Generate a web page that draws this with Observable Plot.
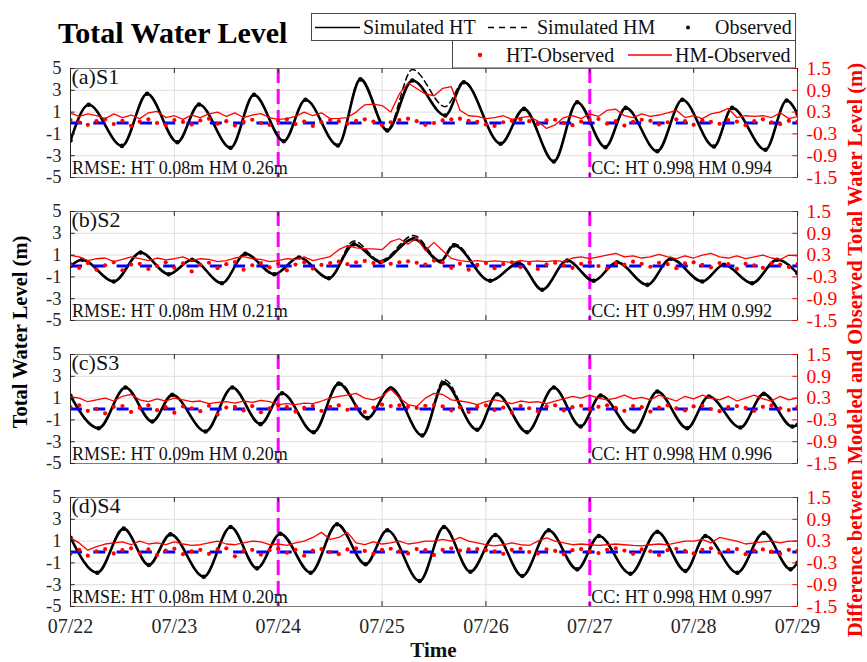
<!DOCTYPE html>
<html>
<head>
<meta charset="utf-8">
<script src="https://cdn.jsdelivr.net/npm/d3@7"></script>
<script src="https://cdn.jsdelivr.net/npm/@observablehq/plot@0.6"></script>
<style>
  html, body { margin: 0; padding: 0; background: #fff; }
  #wrap { position: relative; width: 867px; height: 662px; overflow: hidden; font-family: "Liberation Serif", "Times New Roman", serif; }
  #wrap > svg { position: absolute; left: 0; top: 0; }
  #overlay { pointer-events: none; }
</style>
</head>
<body>
<div id="wrap"></div>
<script>
// ---------------- data ----------------
const panelIds = ["a", "b", "c", "d"];
const panelNames = ["(a)S1", "(b)S2", "(c)S3", "(d)S4"];
const rmseLabels = ["RMSE: HT 0.08m HM 0.26m", "RMSE: HT 0.08m HM 0.21m", "RMSE: HT 0.09m HM 0.20m", "RMSE: HT 0.08m HM 0.20m"];
const ccLabels = ["CC: HT 0.998 HM 0.994", "CC: HT 0.997 HM 0.992", "CC: HT 0.998 HM 0.996", "CC: HT 0.998 HM 0.997"];
const dayLabels = ["07/22", "07/23", "07/24", "07/25", "07/26", "07/27", "07/28", "07/29"];
const markerDays = ["07/24", "07/27"];
const leftTicks = [5, 3, 1, -1, -3, -5];
const rightTickLabels = ["1.5", "0.9", "0.3", "-0.3", "-0.9", "-1.5"];

// Total water level key points (hours after 07/22 00:00, m)
const hoursA = [0, 4.2, 11.9, 17.7, 24.7, 29.7, 37, 42.4, 49.3, 54.3, 61.8, 67, 73.2, 79, 86.6, 90.9, 99.4, 104.8, 111.7, 117.1, 123.6, 128.3, 135.6, 141.4, 148.7, 152.9, 160.6, 165.5, 168];
const observedA = [-1.6, 1.67, -2.1, 2.68, -1.76, 1.7, -2.28, 2.59, -1.67, 2.13, -2.06, 4.0, -0.69, 3.9, 0.69, 3.74, -1.9, 1.3, -3.53, 1.91, -2.22, 1.39, -2.59, 2.13, -2.16, 1.39, -2.46, 2.06, 0.84];
const simHTA = [-1.6, 1.67, -2.1, 2.68, -1.76, 1.7, -2.28, 2.59, -1.67, 2.13, -2.06, 4.0, -0.69, 3.9, 0.69, 3.74, -1.9, 1.3, -3.53, 1.91, -2.22, 1.39, -2.59, 2.13, -2.16, 1.39, -2.46, 2.06, 0.84];
const simHMA = [-1.6, 1.67, -2.1, 2.68, -1.76, 1.7, -2.28, 2.59, -1.67, 2.13, -2.06, 4.1, -0.6, 4.9, 1.5, 3.8, -1.9, 1.3, -3.53, 1.91, -2.22, 1.39, -2.59, 2.13, -2.16, 1.39, -2.46, 2.06, 0.84];

const hoursB = [0, 2.7, 10, 16.2, 22.7, 28.1, 35, 40.4, 47.1, 52.8, 59.7, 65.5, 71.6, 79.3, 85.5, 88.6, 97, 103.6, 109, 114.8, 120.9, 126.3, 133.3, 138.7, 146, 151, 157.5, 163.3, 168];
const observedB = [0.0, 0.57, -1.42, 1.24, -0.75, 0.57, -1.58, 1.12, -0.75, 0.78, -1.12, 2.0, 0.35, 2.5, 0.41, 1.88, -1.36, 0.26, -2.18, 0.5, -1.36, 0.35, -1.73, 0.66, -1.42, 0.11, -1.58, 0.57, -0.66];
const simHTB = [0.0, 0.57, -1.42, 1.24, -0.75, 0.57, -1.58, 1.12, -0.75, 0.78, -1.12, 2.0, 0.35, 2.5, 0.41, 1.88, -1.36, 0.26, -2.18, 0.5, -1.36, 0.35, -1.73, 0.66, -1.42, 0.11, -1.58, 0.57, -0.66];
const simHMB = [0.0, 0.57, -1.42, 1.24, -0.75, 0.57, -1.58, 1.12, -0.75, 0.78, -1.12, 2.3, 0.5, 2.8, 0.5, 2.05, -1.36, 0.26, -2.18, 0.5, -1.36, 0.35, -1.73, 0.66, -1.42, 0.11, -1.58, 0.57, -0.66];

const hoursC = [0, 6.5, 12.7, 18.9, 23.5, 31.2, 37.4, 43.9, 48.9, 56.2, 62, 68.6, 74, 81.3, 86.3, 94, 98.6, 105.5, 111.7, 117.9, 122.5, 130.2, 135.6, 142.5, 147.5, 154.8, 160.2, 166.8, 168];
const observedC = [1.2, -1.76, 1.97, -1.15, 1.3, -2.06, 1.97, -1.39, 1.45, -2.13, 2.31, -0.84, 1.91, -2.43, 2.37, -1.91, 1.36, -2.13, 1.97, -1.6, 1.24, -2.06, 1.6, -1.76, 1.15, -1.7, 1.39, -1.6, -1.45];
const simHTC = [1.2, -1.76, 1.97, -1.15, 1.3, -2.06, 1.97, -1.39, 1.45, -2.13, 2.31, -0.84, 1.91, -2.43, 2.37, -1.91, 1.36, -2.13, 1.97, -1.6, 1.24, -2.06, 1.6, -1.76, 1.15, -1.7, 1.39, -1.6, -1.45];
const simHMC = [1.2, -1.76, 1.97, -1.15, 1.3, -2.06, 1.97, -1.39, 1.45, -2.13, 2.45, -0.8, 2.0, -2.4, 2.7, -1.91, 1.36, -2.13, 1.97, -1.6, 1.24, -2.06, 1.6, -1.76, 1.15, -1.7, 1.39, -1.6, -1.45];

const hoursD = [0, 6.2, 12.3, 18.1, 23.1, 30.8, 37, 43.1, 48.5, 55.5, 61.6, 68.2, 73.2, 80.7, 86.3, 92.4, 98.2, 104.4, 110.5, 117.1, 122.1, 129.4, 135.6, 142.1, 146.7, 154.1, 160.2, 166.4, 168];
const observedD = [1.31, -1.9, 2.14, -1.19, 1.62, -2.27, 2.29, -1.5, 1.68, -1.9, 2.54, -1.13, 1.99, -2.66, 2.29, -1.81, 1.56, -2.2, 1.99, -1.59, 1.47, -1.99, 1.86, -1.74, 1.47, -1.9, 1.77, -1.59, -0.98];
const simHTD = [1.31, -1.9, 2.14, -1.19, 1.62, -2.27, 2.29, -1.5, 1.68, -1.9, 2.54, -1.13, 1.99, -2.66, 2.29, -1.81, 1.56, -2.2, 1.99, -1.59, 1.47, -1.99, 1.86, -1.74, 1.47, -1.9, 1.77, -1.59, -0.98];
const simHMD = [1.31, -1.9, 2.14, -1.19, 1.62, -2.27, 2.29, -1.5, 1.68, -1.9, 2.6, -1.1, 1.99, -2.66, 2.35, -1.81, 1.56, -2.2, 1.99, -1.59, 1.47, -1.99, 1.86, -1.74, 1.47, -1.9, 1.77, -1.59, -0.98];

// Differences (m, right axis), every 2 hours from 07/22 00:00
const htMinusObsA = [0.08,0.02,-0.05,0.05,0.1,-0.03,0.06,-0.08,0.04,0.1,0.0,-0.06,0.08,0.03,-0.04,0.07,0.12,-0.02,0.05,-0.07,0.03,0.09,0.0,-0.05,0.06,0.1,-0.03,0.04,-0.08,0.02,0.08,0.05,-0.02,0.06,0.1,0.04,-0.06,0.02,0.08,0.12,0.05,-0.05,0.0,0.07,0.1,0.12,0.06,0.03,-0.04,-0.08,0.02,0.06,0.1,0.05,-0.03,0.07,0.09,0.0,-0.06,0.04,0.08,0.11,-0.02,0.05,-0.07,0.03,0.09,0.06,-0.04,0.02,0.1,0.05,-0.05,0.07,0.03,-0.02,0.08,0.04,-0.06,0.05,0.1,0.02,-0.03,0.06,0.04];
const hmMinusObsA = [0.27,0.18,0.25,0.2,0.12,0.25,0.15,0.22,0.12,0.28,0.32,0.15,0.2,0.1,0.22,0.15,0.25,0.3,0.18,0.28,0.15,0.22,0.26,0.15,0.1,0.12,0.18,0.3,0.2,0.28,0.12,0.13,0.15,0.3,0.5,0.52,0.48,0.3,0.8,1.1,0.95,0.8,0.75,0.95,1.0,0.35,0.2,0.18,0.12,0.15,0.2,0.1,0.15,0.18,0.05,-0.15,-0.05,0.15,0.2,0.12,0.25,0.18,0.35,0.38,0.2,0.15,0.25,0.18,0.22,0.28,0.35,0.15,0.2,0.12,0.25,0.3,0.4,0.15,0.2,0.18,0.2,0.15,0.28,0.12,0.18];
const htMinusObsB = [0.05,-0.05,0.08,-0.1,0.02,0.1,-0.12,0.04,0.06,-0.08,0.0,0.1,-0.05,0.07,-0.15,0.03,0.09,-0.06,0.05,0.11,-0.1,0.02,0.08,-0.04,0.06,-0.12,0.04,0.1,-0.07,0.03,0.08,0.12,0.05,0.1,0.14,0.08,0.12,0.06,0.1,0.13,0.09,0.04,0.15,0.1,-0.05,0.06,-0.1,0.03,0.08,-0.06,0.05,0.1,-0.03,0.07,-0.08,0.04,0.09,0.02,-0.05,0.06,0.1,0.0,-0.07,0.08,0.04,0.12,0.06,-0.02,0.09,0.05,-0.06,0.07,0.1,0.03,-0.04,0.08,0.05,-0.08,0.06,0.02,-0.05,0.07,0.04,-0.03,0.05];
const hmMinusObsB = [0.29,0.25,0.15,0.2,0.22,0.12,0.18,0.25,0.2,0.15,0.22,0.17,0.2,0.25,0.15,0.2,0.18,0.12,0.15,0.22,0.26,0.2,0.18,0.12,0.15,0.2,0.18,0.25,0.15,0.2,0.26,0.45,0.56,0.5,0.48,0.47,0.45,0.67,0.75,0.6,0.78,0.42,0.65,0.42,0.21,0.15,0.12,0.15,0.12,0.14,0.12,0.1,0.15,0.12,0.14,0.12,0.15,0.12,0.22,0.25,0.2,0.25,0.3,0.35,0.25,0.28,0.22,0.25,0.32,0.25,0.2,0.28,0.22,0.3,0.35,0.25,0.22,0.28,0.2,0.25,0.3,0.22,0.18,0.3,0.28];
const htMinusObsC = [0.05,0.1,-0.05,0.0,-0.12,0.06,0.08,-0.08,0.03,0.1,-0.03,0.05,-0.1,0.07,0.02,-0.06,0.09,-0.15,0.04,0.06,-0.04,0.08,-0.09,0.02,0.1,0.05,-0.07,0.03,0.08,-0.05,0.06,0.1,-0.02,0.07,-0.08,0.04,0.12,0.08,0.1,0.06,0.03,0.09,0.11,0.07,-0.04,0.05,-0.08,0.06,0.1,-0.03,0.04,-0.1,0.08,0.02,-0.06,0.07,0.1,-0.04,0.05,0.09,-0.02,0.06,0.1,0.03,-0.05,0.08,0.05,-0.07,0.04,0.1,0.02,-0.04,0.07,0.09,0.0,-0.06,0.05,0.08,0.03,-0.05,0.06,0.1,0.02,-0.03,0.05];
const hmMinusObsC = [0.34,0.3,0.2,0.25,0.3,0.22,0.35,0.4,0.25,0.2,0.28,0.22,0.3,0.25,0.2,0.22,0.15,0.18,0.2,0.16,0.22,0.18,0.24,0.2,0.12,0.15,0.12,0.16,0.15,0.22,0.3,0.35,0.38,0.43,0.3,0.25,0.35,0.55,0.3,0.12,0.07,0.3,0.43,0.4,0.25,0.22,0.18,0.12,0.2,0.25,0.2,0.15,0.22,0.18,0.2,0.15,0.22,0.28,0.35,0.3,0.38,0.3,0.25,0.3,0.38,0.28,0.32,0.25,0.38,0.3,0.22,0.35,0.28,0.38,0.3,0.25,0.35,0.22,0.3,0.38,0.28,0.22,0.35,0.25,0.3];
const htMinusObsD = [-0.05,0.06,-0.1,0.02,0.08,-0.04,0.05,0.1,-0.03,0.07,-0.08,0.04,0.09,-0.06,0.02,0.06,-0.05,0.08,0.1,-0.12,0.03,0.06,-0.07,0.05,0.09,-0.02,0.06,-0.1,0.04,0.08,0.0,-0.06,0.07,0.1,0.03,-0.05,0.06,0.09,0.02,-0.04,0.08,0.05,-0.08,0.06,0.1,0.04,0.07,0.08,0.05,0.02,-0.05,0.06,0.09,0.0,-0.04,0.07,0.03,-0.06,0.05,0.08,0.02,-0.03,0.06,0.1,0.04,-0.05,0.07,0.02,-0.08,0.05,0.09,0.03,-0.04,0.06,0.1,-0.02,0.05,0.08,-0.06,0.04,0.07,0.01,-0.05,0.06,0.03];
const hmMinusObsD = [0.39,0.25,0.05,0.15,0.22,0.25,0.28,0.2,0.3,0.22,0.25,0.2,0.28,0.22,0.18,0.2,0.25,0.3,0.22,0.2,0.25,0.3,0.28,0.2,0.22,0.18,0.25,0.3,0.4,0.54,0.35,0.4,0.54,0.25,0.2,0.28,0.22,0.25,0.3,0.22,0.25,0.3,0.3,0.35,0.3,0.4,0.3,0.25,0.2,0.17,0.2,0.25,0.2,0.18,0.3,0.39,0.3,0.25,0.2,0.22,0.2,0.18,0.2,0.22,0.2,0.18,0.17,0.2,0.22,0.2,0.25,0.3,0.3,0.35,0.25,0.4,0.35,0.3,0.22,0.25,0.28,0.3,0.25,0.3,0.3];

// ---------------- tables ----------------
const HOUR = 3600e3;
const t0 = Date.UTC(2023, 6, 22);
const toDate = h => new Date(t0 + h * HOUR);
const dayDates = dayLabels.map((_, i) => toDate(24 * i));
const dateOfLabel = lab => dayDates[dayLabels.indexOf(lab)];
const dStart = dayDates[0], dEnd = dayDates[dayDates.length - 1];
const RIGHT_PER_LEFT = 0.3; // right axis [-1.5, 1.5] shares the frame with left axis [-5, 5]

const panelSeries = [
  {hours: hoursA, obs: observedA, ht: simHTA, hm: simHMA, dht: htMinusObsA, dhm: hmMinusObsA},
  {hours: hoursB, obs: observedB, ht: simHTB, hm: simHMB, dht: htMinusObsB, dhm: hmMinusObsB},
  {hours: hoursC, obs: observedC, ht: simHTC, hm: simHMC, dht: htMinusObsC, dhm: hmMinusObsC},
  {hours: hoursD, obs: observedD, ht: simHTD, hm: simHMD, dht: htMinusObsD, dhm: hmMinusObsD}
];

const levelRows = [], diffRows = [], panelRows = [];
panelSeries.forEach((s, k) => {
  const p = panelIds[k];
  s.hours.forEach((h, i) => levelRows.push({panel: p, date: toDate(h), obs: s.obs[i], ht: s.ht[i], hm: s.hm[i]}));
  s.dht.forEach((v, i) => diffRows.push({panel: p, date: toDate(2 * i), ht: v, hm: s.dhm[i]}));
  panelRows.push({panel: p, name: panelNames[k], rmse: rmseLabels[k], cc: ccLabels[k],
                  xl: dStart, xcc: dateOfLabel("07/27"), top: 5, bottom: -5});
});
const leftTickRows = leftTicks.map(v => ({v, a: dStart, b: toDate(1.1), c: toDate(166.9), d: dEnd}));

const FONT = '"Liberation Serif", "Times New Roman", serif';
const INK = "#262626";

const chart = Plot.plot({
  width: 867,
  height: 662,
  marginTop: 68,
  marginBottom: 56,
  marginLeft: 70,
  marginRight: 70,
  style: {fontFamily: FONT, background: "white", color: INK},
  x: {type: "utc", domain: [dStart, dEnd]},
  y: {domain: [-5, 5]},
  fy: {domain: panelIds, paddingInner: 0.2378, paddingOuter: 0, axis: null},
  marks: [
    Plot.gridY(leftTicks, {stroke: "#dedede", strokeOpacity: 1}),
    Plot.gridX(dayDates, {stroke: "#dedede", strokeOpacity: 1}),
    Plot.ruleX(markerDays.map(dateOfLabel), {stroke: "#ff00ff", strokeWidth: 3, strokeDasharray: "15,6"}),
    Plot.line(levelRows, {x: "date", y: "hm", fy: "panel", z: "panel", curve: "monotone-x", stroke: "black", strokeWidth: 1.5, strokeDasharray: "6,4", clip: true}),
    Plot.line(levelRows, {x: "date", y: "ht", fy: "panel", z: "panel", curve: "monotone-x", stroke: "black", strokeWidth: 2.6, clip: true}),
    Plot.dot(levelRows, {x: "date", y: "obs", fy: "panel", r: 2.3, fill: "black", stroke: null, clip: true}),
    Plot.ruleY([0], {stroke: "#0000ff", strokeWidth: 3, strokeDasharray: "12,11.3"}),
    Plot.dot(diffRows, {x: "date", y: d => d.ht / RIGHT_PER_LEFT, fy: "panel", r: 2.1, fill: "#ff0000", stroke: null, clip: true}),
    Plot.line(diffRows, {x: "date", y: d => d.hm / RIGHT_PER_LEFT, fy: "panel", z: "panel", stroke: "#ff0000", strokeWidth: 1.3, clip: true}),
    Plot.text(panelRows, {x: "xl", y: "top", fy: "panel", text: "name", textAnchor: "start", lineAnchor: "top", dx: 1, dy: 0, fontSize: 22, fontFamily: FONT, fill: "#111"}),
    Plot.text(panelRows, {x: "xl", y: "bottom", fy: "panel", text: "rmse", textAnchor: "start", lineAnchor: "top", dx: 1.5, dy: -16.5, fontSize: 18, fontFamily: FONT, fill: "#111"}),
    Plot.text(panelRows, {x: "xcc", y: "bottom", fy: "panel", text: "cc", textAnchor: "start", lineAnchor: "top", dx: 1.5, dy: -16.5, fontSize: 18, fontFamily: FONT, fill: "#111"}),
    Plot.frame({stroke: "#7a7a7a"}),
    Plot.ruleX([dStart], {stroke: INK}),
    Plot.ruleX([dEnd], {stroke: "#ff0000"}),
    Plot.ruleX(dayDates, {y1: 5, y2: 4.55, stroke: INK}),
    Plot.ruleX(dayDates, {y1: -5, y2: -4.55, stroke: INK}),
    Plot.ruleY(leftTickRows, {y: "v", x1: "a", x2: "b", stroke: INK}),
    Plot.ruleY(leftTickRows, {y: "v", x1: "c", x2: "d", stroke: "#ff0000"}),
    Plot.axisY(leftTicks, {anchor: "left", tickSize: 0, tickPadding: 9, fontSize: 18.5, fontFamily: FONT, label: null, color: INK, tickFormat: d => String(d)}),
    Plot.axisY(leftTicks, {anchor: "right", tickSize: 0, tickPadding: 9, fontSize: 19.5, fontFamily: FONT, label: null, color: "#ff0000", fill: "#ff0000", tickFormat: d => rightTickLabels[leftTicks.indexOf(d)]}),
    Plot.axisX(dayDates, {anchor: "bottom", facetAnchor: "bottom-empty", tickSize: 0, tickPadding: 12, fontSize: 20, fontFamily: FONT, label: null, color: INK, tickFormat: d => dayLabels[dayDates.findIndex(e => +e === +d)]})
  ]
});

const wrap = document.getElementById("wrap");
wrap.appendChild(chart);

// ---------------- title, legends, axis titles ----------------
const NS = "http://www.w3.org/2000/svg";
const overlay = document.createElementNS(NS, "svg");
overlay.setAttribute("id", "overlay");
overlay.setAttribute("width", 867);
overlay.setAttribute("height", 662);
overlay.setAttribute("font-family", FONT);
overlay.innerHTML = `
  <text x="58" y="43" font-size="30" font-weight="bold" fill="#000">Total Water Level</text>
  <rect x="311.5" y="13.5" width="484" height="27" fill="#fff" stroke="#4a4a4a" stroke-width="1"/>
  <line x1="315" x2="360" y1="27.5" y2="27.5" stroke="#000" stroke-width="1.5"/>
  <text x="363" y="34.3" font-size="20" fill="#111">Simulated HT</text>
  <line x1="488" x2="530" y1="27.5" y2="27.5" stroke="#000" stroke-width="1.5" stroke-dasharray="6,5"/>
  <text x="537" y="34.3" font-size="20" fill="#111">Simulated HM</text>
  <circle cx="688" cy="27.5" r="2" fill="#000"/>
  <text x="715" y="34.3" font-size="20" fill="#111">Observed</text>
  <rect x="452.5" y="40.5" width="343" height="27.5" fill="#fff" stroke="#4a4a4a" stroke-width="1"/>
  <circle cx="480" cy="55" r="2.2" fill="#ff0000"/>
  <text x="506" y="61.7" font-size="20" fill="#111">HT-Observed</text>
  <line x1="628" x2="672" y1="55" y2="55" stroke="#ff0000" stroke-width="1.5"/>
  <text x="675" y="61.7" font-size="20" fill="#111">HM-Observed</text>
  <text transform="translate(27,332) rotate(-90)" text-anchor="middle" font-size="20.5" font-weight="bold" fill="#000">Total Water Level (m)</text>
  <text transform="translate(862,350) rotate(-90)" text-anchor="middle" font-size="20.5" font-weight="bold" fill="#ff0000">Difference between Modeled and Observed Total Water Level (m)</text>
  <text x="433.5" y="657" text-anchor="middle" font-size="21" font-weight="bold" fill="#111">Time</text>
`;
wrap.appendChild(overlay);
</script>
</body>
</html>
